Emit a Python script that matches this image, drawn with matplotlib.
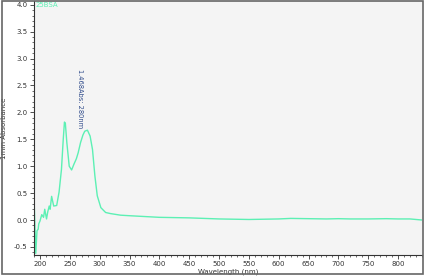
import matplotlib
matplotlib.use('Agg')
import matplotlib.pyplot as plt
from matplotlib.patches import Rectangle
from matplotlib.ticker import MultipleLocator, FormatStrFormatter

# spectrum (nm, absorbance)
wavelength = [190.5, 193, 195, 197, 198, 200, 203, 206, 208, 211, 213, 215.5, 217, 219.5,
              223, 228, 232, 236, 239, 241, 242.5, 245, 249, 253, 257, 261, 264, 268, 272,
              275, 279.5, 284, 288, 292, 296, 302, 310, 318, 335, 350, 375, 400, 450,
              500, 550, 600, 620, 650, 680, 700, 720, 750, 780, 800, 820, 840]
absorbance = [0.26, -0.62, -0.2, -0.17, -0.07, -0.02, 0.1, 0.05, 0.2, 0.02, 0.15, 0.26, 0.2, 0.44,
              0.26, 0.27, 0.52, 0.94, 1.5, 1.82, 1.8, 1.44, 1.0, 0.93, 1.04, 1.14, 1.25, 1.44, 1.58,
              1.65, 1.67, 1.56, 1.31, 0.82, 0.45, 0.23, 0.14, 0.12, 0.09, 0.08, 0.065, 0.05, 0.04,
              0.02, 0.01, 0.02, 0.03, 0.025, 0.02, 0.025, 0.02, 0.02, 0.025, 0.02, 0.02, 0.0]

sample_name = "25BSA"
peak_text = "1.468Abs: 280nm"

fig = plt.figure(figsize=(4.25, 2.79), dpi=100)
fig.patch.set_facecolor('white')
fig.patches.append(Rectangle((2 / 425, 5 / 279), 421 / 425, 273 / 279, transform=fig.transFigure,
                             fill=False, edgecolor='#666666', linewidth=1.2))

ax = fig.add_axes([34 / 425, 24 / 279, 388 / 425, 254 / 279])
ax.set_facecolor('#f4f4f4')
ax.plot(wavelength, absorbance, color='#5cf0b4', linewidth=1.0)

ax.set_xlim(190, 840)
ax.set_ylim(-0.65, 4.07)
ax.xaxis.set_major_locator(MultipleLocator(50))
ax.xaxis.set_minor_locator(MultipleLocator(10))
ax.yaxis.set_major_locator(MultipleLocator(0.5))
ax.yaxis.set_minor_locator(MultipleLocator(0.1))
ax.yaxis.set_major_formatter(FormatStrFormatter('%.1f'))

for s in ['top', 'right']:
    ax.spines[s].set_visible(False)
ax.spines['left'].set_color('#333333')
ax.spines['bottom'].set_color('#333333')
ax.tick_params(axis='both', which='major', labelsize=5, colors='#333333', length=3, width=0.6, pad=1.5)
ax.tick_params(axis='both', which='minor', colors='#333333', length=1.5, width=0.5)

ax.set_xlabel("Wavelength (nm)", fontsize=5, color='#333333', labelpad=1)
ax.set_ylabel("1mm Absorbance", fontsize=5, color='#333333', labelpad=5)

ax.text(0.005, 0.998, sample_name, transform=ax.transAxes, fontsize=5, color='#5cf0b4',
        ha='left', va='top')
ax.text(267, 2.8, peak_text, rotation=-90, fontsize=4.8, color='#2e4a8a', ha='center', va='top')

plt.savefig("out.png", dpi=100)
plt.close(fig)
